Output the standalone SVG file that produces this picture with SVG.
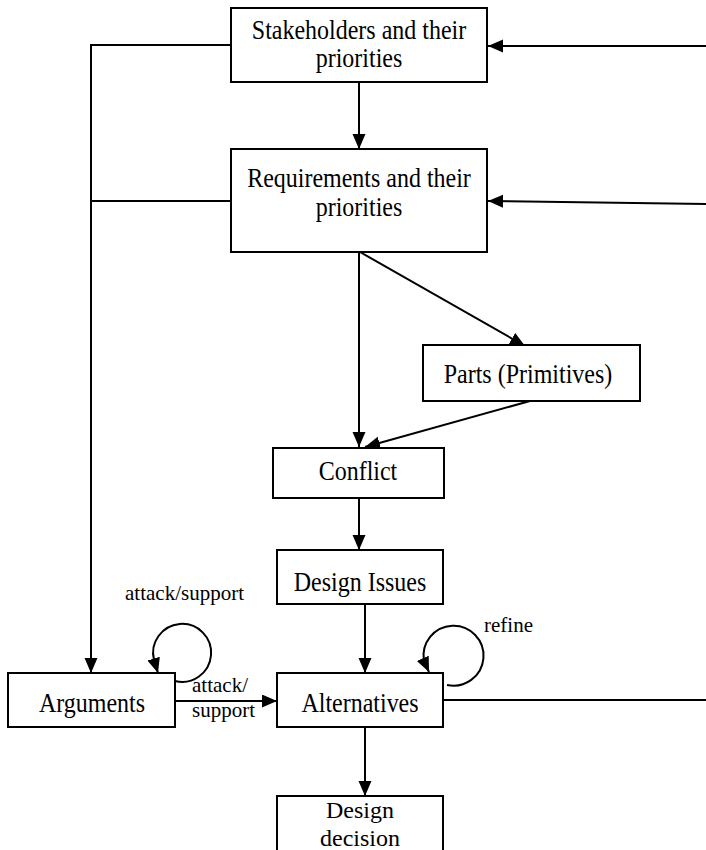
<svg xmlns="http://www.w3.org/2000/svg" width="706" height="850" viewBox="0 0 706 850">
  <style>
    .box { fill: #ffffff; stroke: #000000; stroke-width: 2; }
    .node-text { font-family: "Liberation Serif", "Times New Roman", serif; font-size: 26.5px; fill: #000000; text-anchor: middle; }
    .node-text.tight { font-size: 24px; }
    .label { font-family: "Liberation Serif", "Times New Roman", serif; font-size: 21px; fill: #000000; }
    .edge { fill: none; stroke: #000000; stroke-width: 2; }
    .arrow { marker-end: url(#head); }
  </style>
  <defs>
    <marker id="head" markerUnits="userSpaceOnUse" markerWidth="16" markerHeight="14" refX="15" refY="6.5" orient="auto">
      <path d="M0,0 L15,6.5 L0,13 z" fill="#000000"/>
    </marker>
  </defs>

  <rect width="706" height="850" fill="#ffffff"/>

  <!-- connectors -->
  <g id="connectors">
    <path class="edge arrow" d="M706,46 L488,46"/>
    <path class="edge arrow" d="M706,204 L488,201"/>
    <path class="edge arrow" d="M359,82 L359,149"/>
    <path class="edge arrow" d="M231,45 L91,45 L91,673"/>
    <path class="edge" d="M231,201 L91,201"/>
    <path class="edge arrow" d="M360,252 L525,346"/>
    <path class="edge arrow" d="M359,252 L359,447"/>
    <path class="edge arrow" d="M530,401 L365,447"/>
    <path class="edge arrow" d="M359,498 L359,550"/>
    <path class="edge arrow" d="M365,604 L365,673"/>
    <path class="edge arrow" d="M365,727 L365,796"/>
    <path class="edge arrow" d="M175,701 L277,701"/>
    <path class="edge" d="M443,700 L706,700"/>
    <!-- self loops -->
    <path class="edge arrow" d="M175,681 A29,29 0 1 0 154,660 L158,673"/>
    <path class="edge arrow" d="M447,685 A30,30 0 1 0 424,661 L429,672"/>
    <text class="label" x="125" y="600">attack/support</text>
    <text class="label" x="484" y="632">refine</text>
    <text class="label" x="192" y="692">attack/</text>
    <text class="label" x="192" y="717">support</text>
  </g>

  <!-- node labels are set slightly condensed: 26.5px type squeezed to 90.5% width -->
  <g id="stakeholders">
    <rect class="box" x="231" y="8" width="256" height="74"/>
    <text class="node-text" transform="translate(359 39) scale(0.905 1)">Stakeholders and their</text>
    <text class="node-text" transform="translate(359 67) scale(0.905 1)">priorities</text>
  </g>

  <g id="requirements">
    <rect class="box" x="231" y="149" width="256" height="103"/>
    <text class="node-text" transform="translate(359 187) scale(0.905 1)">Requirements and their</text>
    <text class="node-text" transform="translate(359 216) scale(0.905 1)">priorities</text>
  </g>

  <g id="parts">
    <rect class="box" x="423" y="345" width="217" height="56"/>
    <text class="node-text" transform="translate(528 383) scale(0.905 1)">Parts (Primitives)</text>
  </g>

  <g id="conflict">
    <rect class="box" x="273" y="448" width="171" height="50"/>
    <text class="node-text" transform="translate(358 480) scale(0.905 1)">Conflict</text>
  </g>

  <g id="design-issues">
    <rect class="box" x="277" y="550" width="166" height="54"/>
    <text class="node-text" transform="translate(360 591) scale(0.905 1)">Design Issues</text>
  </g>

  <g id="arguments">
    <rect class="box" x="8" y="673" width="167" height="54"/>
    <text class="node-text" transform="translate(92 712) scale(0.905 1)">Arguments</text>
  </g>

  <g id="alternatives">
    <rect class="box" x="277" y="673" width="166" height="54"/>
    <text class="node-text" transform="translate(360 712) scale(0.905 1)">Alternatives</text>
  </g>

  <g id="design-decision">
    <rect class="box" x="277" y="796" width="166" height="70"/>
    <text class="node-text tight" x="360" y="818">Design</text>
    <text class="node-text tight" x="360" y="846">decision</text>
  </g>
</svg>
